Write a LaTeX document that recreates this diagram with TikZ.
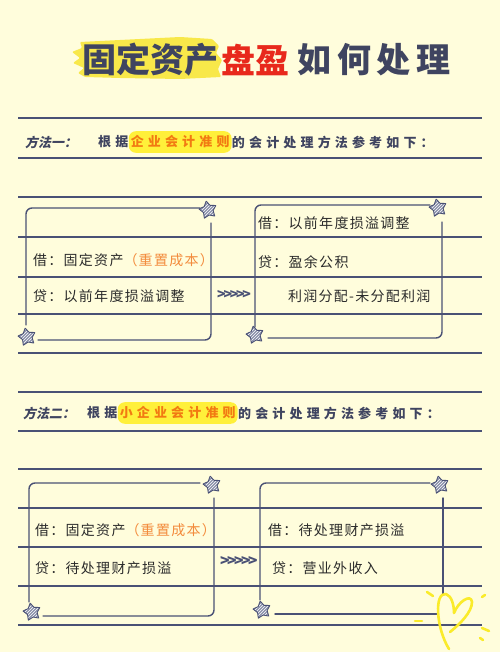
\documentclass[tikz,border=0pt]{standalone}
\usepackage{fontspec}
\usetikzlibrary{shapes.geometric,patterns,positioning}
\newfontfamily\cjkplain{Noto Sans CJK SC}
\newfontfamily\cjkfont[LetterSpace=9]{Noto Sans CJK SC}
\newfontfamily\cjkwide[LetterSpace=32]{Noto Sans CJK SC}
\newfontfamily\cjkspread[LetterSpace=16]{Noto Sans CJK SC}
\newfontfamily\cjkslant[FakeSlant=0.2]{Noto Sans CJK SC}
\newfontfamily\cjktight[LetterSpace=-16]{Noto Sans CJK SC}
\definecolor{bgcol}{HTML}{FFFDDC}
\definecolor{rulecol}{HTML}{4A5175}
\definecolor{headcol}{HTML}{3F4460}
\definecolor{ink}{HTML}{2B2B2B}
\definecolor{titlered}{HTML}{E8291C}
\definecolor{laworange}{HTML}{F27A12}
\definecolor{costorange}{HTML}{F38B3C}
\definecolor{hlyel}{HTML}{FFF03A}
\definecolor{brushyel}{HTML}{F8E84A}
\definecolor{heartyel}{HTML}{FAEB2A}
\definecolor{starcol}{HTML}{8A90AA}

\begin{document}
\begin{tikzpicture}[x=1pt, y=-1pt,
  rule/.style={draw=rulecol, line width=2.2pt},
  frame/.style={draw=rulecol, line width=1.4pt, rounded corners=6pt, line cap=round},
  deco/.style={star, star points=5, star point ratio=1.75, minimum size=18pt, inner sep=0pt,
               draw=rulecol, line width=0.9pt, line join=round, preaction={fill=starcol},
               pattern=north east lines, pattern color=white, shape border rotate=12},
  ttl/.style={font=\cjkplain\bfseries\fontsize{34}{34}\selectfont, inner sep=0pt},
  tag/.style={anchor=west, inner sep=0pt, font=\cjkslant\bfseries\fontsize{13}{13}\selectfont, text=headcol},
  head/.style={anchor=west, inner sep=0pt, font=\cjkwide\bfseries\fontsize{13}{13}\selectfont, text=headcol},
  hl/.style={fill=hlyel, rounded corners=7pt, inner xsep=2pt, inner ysep=4.5pt, text=laworange},
  txt/.style={anchor=west, inner sep=0pt, font=\cjkfont\fontsize{14}{14}\selectfont, text=ink},
  chev/.style={anchor=west, inner sep=0pt, font=\cjktight\bfseries\fontsize{14}{14}\selectfont, text=rulecol},
  heart/.style={draw=heartyel, line width=2.6pt, line cap=round, line join=round},
]
\useasboundingbox (0,0) rectangle (500,652);
\fill[bgcol] (0,0) rectangle (500,652);

% ---- title ----------------------------------------------------------------
\fill[brushyel, rounded corners=1pt] (80,42) -- (120,40) -- (180,37) -- (212,39) -- (219,46)
  -- (216,53) -- (222,60) -- (218,69) -- (221,77) -- (180,79) -- (120,78) -- (85,77)
  -- (78,73) -- (84,68) -- (73,63) -- (80,58) -- (72,52) -- (82,48) -- cycle;
\node[ttl, text=headcol]  (t1) at (150,60) {固定资产};
\node[ttl, text=titlered] (t2) at (255,60) {盘盈};
\node[ttl, text=headcol, font=\cjkspread\bfseries\fontsize{34}{34}\selectfont] (t3) at (374,60) {如何处理};

% ---- ruled paper ----------------------------------------------------------
\foreach \y in {118,158,197,237,277,314,353,392,431,469,508,547,586,625}
  \draw[rule] (18,\y) -- (482,\y);

% ---- method one -----------------------------------------------------------
\node[tag] (m1) at (25,142) {方法一：};
\node[head] (pre1) at (98,142) {根据};
\node[head, hl, right=0pt of pre1] (law1) {企业会计准则};
\node[head, right=0pt of law1] (post1) {的会计处理方法参考如下：};

\draw[frame] (200,208) -- (26,208) -- (26,325);
\draw[frame] (38,340) -- (211,340) -- (211,223);
\node[deco] (st1) at (208,210) {};
\node[deco] (sb1) at (27,337) {};
\node[txt] (d1) at (33,260) {借：固定资产\textcolor{costorange}{（重置成本）}};
\node[txt] (c1) at (33,296) {贷：以前年度损溢调整};

\node[chev] (ar1) at (217,295) {>>>>>};

\draw[frame] (430,205) -- (255,205) -- (255,327);
\draw[frame] (268,338) -- (442,338) -- (442,222);
\node[deco] (st2) at (438,208) {};
\node[deco] (sb2) at (255,335) {};
\node[txt] (d2) at (258,223) {借：以前年度损溢调整};
\node[txt] (c2) at (258,262) {贷：盈余公积};
\node[txt] (c2b) at (288,296) {利润分配-未分配利润};

% ---- method two -----------------------------------------------------------
\node[tag] (m2) at (23,413) {方法二：};
\node[head] (pre2) at (87,413) {根据};
\node[head, hl, right=0pt of pre2] (law2) {小企业会计准则};
\node[head, right=0pt of law2] (post2) {的会计处理方法参考如下：};

\draw[frame] (200,483) -- (29,483) -- (29,602);
\draw[frame] (43,616) -- (214,616) -- (214,498);
\node[deco] (st3) at (212,485) {};
\node[deco] (sb3) at (32,612) {};
\node[txt] (d3) at (35,530) {借：固定资产\textcolor{costorange}{（重置成本）}};
\node[txt] (c3) at (35,568) {贷：待处理财产损溢};

\node[chev, font=\cjktight\bfseries\fontsize{15.5}{15.5}\selectfont] (ar2) at (220,561) {>>>>>};

\draw[frame] (430,483) -- (260,483) -- (260,600);
\draw[frame] (443,498) -- (443,595);
\draw[frame] (275,614) -- (438,614);
\node[deco] (st4) at (440,485) {};
\node[deco] (sb4) at (262,610) {};
\node[txt] (d4) at (268,530) {借：待处理财产损溢};
\node[txt] (c4) at (272,568) {贷：营业外收入};

% ---- doodle ---------------------------------------------------------------
\draw[heart] (449,649) .. controls (436,628) and (434,592) .. (446,594)
  .. controls (452,596) and (454,606) .. (454,613)
  .. controls (458,602) and (471,593) .. (472,602)
  .. controls (472,612) and (460,624) .. (450,632);
\draw[heart] (427,592) -- (433,596);
\draw[heart] (415,621) -- (422,621);
\draw[heart] (482,597) -- (485,595);
\draw[heart] (482,628) -- (489,631);
\draw[heart] (480,638) -- (483,640);

\end{tikzpicture}
\end{document}
